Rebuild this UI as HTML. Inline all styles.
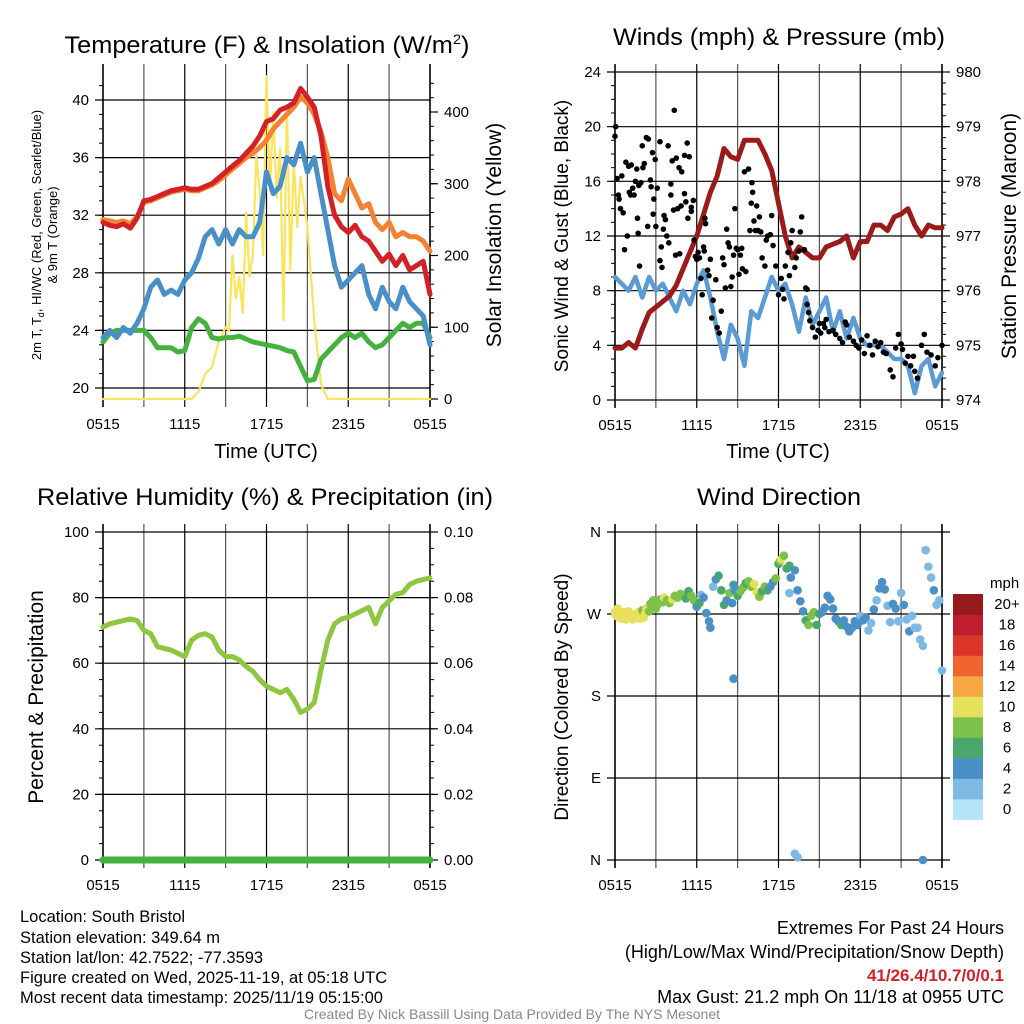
<!DOCTYPE html>
<html><head><meta charset="utf-8">
<style>
html,body{margin:0;padding:0;background:#fff;}
svg{display:block;font-family:"Liberation Sans Narrow","Liberation Sans",sans-serif;}
</style></head>
<body>
<svg id="fig" width="1024" height="1024" viewBox="0 0 1024 1024" xmlns="http://www.w3.org/2000/svg">
<rect width="1024" height="1024" fill="#fff"/>
<text x="267" y="53" font-size="24" text-anchor="middle" textLength="405" lengthAdjust="spacingAndGlyphs">Temperature (F) &amp; Insolation (W/m<tspan dy="-9" font-size="14">2</tspan><tspan dy="9">)</tspan></text>
<text x="779" y="45" font-size="24" text-anchor="middle" textLength="332" lengthAdjust="spacingAndGlyphs">Winds (mph) &amp; Pressure (mb)</text>
<text x="265" y="505" font-size="24" text-anchor="middle" textLength="456" lengthAdjust="spacingAndGlyphs">Relative Humidity (%) &amp; Precipitation (in)</text>
<text x="779" y="505" font-size="24" text-anchor="middle" textLength="164" lengthAdjust="spacingAndGlyphs">Wind Direction</text>

<text transform="translate(41,235) rotate(-90)" font-size="13" text-anchor="middle">2m T, T<tspan font-size="9" dy="3">d</tspan><tspan dy="-3">, HI/WC (Red, Green, Scarlet/Blue)</tspan></text>
<text transform="translate(57,235) rotate(-90)" font-size="13" text-anchor="middle">&amp; 9m T (Orange)</text>
<text transform="translate(501,235) rotate(-90)" font-size="21" text-anchor="middle">Solar Insolation (Yellow)</text>
<text transform="translate(568,236) rotate(-90)" font-size="19" text-anchor="middle">Sonic Wind &amp; Gust (Blue, Black)</text>
<text transform="translate(1016,236) rotate(-90)" font-size="21" text-anchor="middle">Station Pressure (Maroon)</text>
<text transform="translate(43,697) rotate(-90)" font-size="21" text-anchor="middle">Percent &amp; Precipitation</text>
<text transform="translate(568,697) rotate(-90)" font-size="19" text-anchor="middle">Direction (Colored By Speed)</text>
<text x="266" y="458" font-size="20" text-anchor="middle">Time (UTC)</text>
<text x="778" y="458" font-size="20" text-anchor="middle">Time (UTC)</text>

<g font-size="16.5">
<text x="20" y="922">Location: South Bristol</text>
<text x="20" y="943">Station elevation: 349.64 m</text>
<text x="20" y="963">Station lat/lon: 42.7522; -77.3593</text>
<text x="20" y="983">Figure created on Wed, 2025-11-19, at 05:18 UTC</text>
<text x="20" y="1003">Most recent data timestamp: 2025/11/19 05:15:00</text>
</g>
<g font-size="18" text-anchor="end">
<text x="1004" y="934">Extremes For Past 24 Hours</text>
<text x="1004" y="958">(High/Low/Max Wind/Precipitation/Snow Depth)</text>
<text x="1004" y="981" fill="#d22027" font-weight="bold" font-size="17">41/26.4/10.7/0/0.1</text>
<text x="1004" y="1003">Max Gust: 21.2 mph On 11/18 at 0955 UTC</text>
</g>
<text x="512" y="1019" font-size="14" fill="#888" text-anchor="middle">Created By Nick Bassill Using Data Provided By The NYS Mesonet</text>
</svg>
<script>
// ---- data (hours since 0515 UTC) ----
const hours = [0,0.5,1,1.5,2,2.5,3,3.5,4,4.5,5,5.5,6,6.5,7,7.5,8,8.5,9,9.5,10,10.5,11,11.5,12,12.5,13,13.5,14,14.5,15,15.5,16,16.5,17,17.5,18,18.5,19,19.5,20,20.5,21,21.5,22,22.5,23,23.5,24];
const tempRed = [31.5,31.3,31.2,31.4,31.1,31.8,33,33.1,33.3,33.5,33.7,33.8,33.9,33.8,33.8,34,34.2,34.6,35,35.4,35.8,36.3,36.8,37.5,38.5,38.7,39.3,39.5,39.8,40.8,40.2,39.5,37.5,34,32,31.2,30.8,31.3,30.5,30.2,29.5,28.8,29.3,28.5,29.2,28.2,28.5,28.8,26.5];
const temp9m = [31.7,31.6,31.5,31.6,31.4,31.9,32.9,33,33.2,33.4,33.6,33.7,33.8,33.7,33.7,33.9,34.1,34.4,34.8,35.2,35.6,36,36.3,36.7,37.2,38,38.5,39,39.5,40.2,39.8,39,37.8,36,33.5,33,34.5,33.5,32.5,32.8,31.5,31,31.5,30.5,30.8,30.5,30.5,30.2,29.5];
const tempBlue = [23.5,24,23.5,24.2,23.8,24.5,25.5,27,27.5,26.5,26.8,26.5,27.5,28,29,30.5,31,30,31,30,31,30.5,30.5,31.5,35,33.5,34,36,35.5,37,35,36,33.5,31,28.5,27,27.5,28,28.5,26.5,25.5,27,26,25.5,27,26,25.5,25,23];
const dewGreen = [23.2,23.8,24,24,24,24,24,23.5,22.8,22.8,22.8,22.5,22.6,24.2,24.8,24.5,23.5,23.4,23.5,23.5,23.6,23.4,23.2,23.1,23,22.9,22.8,22.6,22.5,21.5,20.5,20.6,22,22.5,23,23.5,23.8,23.5,23.8,23.2,22.8,23,23.5,24,24.5,24.2,24.5,24.5,23.5];
const solarT = [0,6.5,7,7.5,8,8.5,9,9.25,9.5,9.75,10,10.25,10.5,10.75,11,11.25,11.5,11.75,12,12.25,12.5,12.75,13,13.25,13.5,13.75,14,14.25,14.5,15,15.5,16,16.5,24];
const solarV = [0,0,10,35,45,80,100,95,200,140,170,120,260,170,200,340,290,200,450,290,400,280,350,110,410,180,330,240,310,240,110,20,0,0];
const windBlue = [9,8.5,8,9,7.5,9,8,8.5,7.5,6.5,8,7,8.5,9.5,7.5,5,3,5.5,4.5,2.5,6.5,6,7.5,9,8,8.5,7,5,7.5,5.5,6.5,7.5,5,6.5,4.5,6,4.5,4,4,4,3.5,3,3,2.5,0.5,2.5,3,1,2];
const pressure = [974.95,974.95,975.05,974.95,975.3,975.6,975.7,975.8,975.9,976.1,976.4,976.7,977,977.4,977.8,978.1,978.6,978.45,978.4,978.75,978.75,978.75,978.5,978.2,977.6,977,976.6,976.8,976.7,976.6,976.6,976.8,976.85,976.9,977,976.6,976.9,976.9,977.2,977.2,977.1,977.35,977.4,977.5,977.2,977,977.2,977.15,977.15];
const gustT = [0,0.05,0.15,0.25,0.3,0.4,0.5,0.6,0.7,0.8,0.9,1,1.05,1.15,1.2,1.3,1.4,1.5,1.6,1.65,1.7,1.75,1.8,1.9,2,2.05,2.15,2.3,2.4,2.45,2.6,2.65,2.75,2.8,2.85,2.95,3,3.1,3.3,3.3,3.4,3.45,3.55,3.6,3.7,3.8,3.9,3.95,4.1,4.1,4.2,4.3,4.35,4.45,4.5,4.6,4.7,4.75,4.85,4.9,5.1,5.1,5.2,5.3,5.35,5.45,5.6,5.6,5.75,5.8,5.9,6,6.1,6.2,6.3,6.4,6.5,6.55,6.6,6.65,6.8,6.9,7,7.1,7.2,7.4,7.5,7.65,7.8,7.9,8,8.1,8.2,8.3,8.4,8.5,8.6,8.7,8.8,8.9,9,9.1,9.2,9.3,9.35,9.5,9.6,9.8,9.9,10,10.05,10.1,10.2,10.3,10.4,10.5,10.6,10.7,10.8,11,11.1,11.2,11.4,11.5,11.6,11.8,12,12.2,12.3,12.4,12.5,12.7,12.8,12.9,13,13.2,13.3,13.5,13.6,13.7,13.9,14,14.1,14.1,14.2,14.3,14.5,14.7,14.9,15,15.1,15.3,15.4,15.5,15.7,16,16.2,16.5,16.7,16.9,17,17.2,17.5,17.7,17.9,18.1,18.3,18.5,18.7,18.9,19.1,19.3,19.5,19.7,19.9,20.2,20.4,20.6,20.8,21,21.1,21.3,21.5,21.7,21.9,22,22.2,22.5,22.7,22.9,23.2,23.5,23.7,24];
const gustV = [19.3,20,16.2,15,14.7,14,16.4,13.7,11,17.4,12,17.1,15.2,15,17.2,15.5,15,16,16.9,13.3,12.2,15.7,9.8,15.9,18.6,17,17.3,19.2,12.7,19.1,16.1,15.6,18.1,13.6,14.7,17.6,12.7,15.5,18.9,10.2,11.2,9.7,12.5,13.5,13.2,12,18.6,11.5,15.8,15,17.5,13.9,21.2,10.6,17.7,14,17,10.7,14.2,16.7,15.1,17.9,14.5,18.8,13.3,17.8,14.1,13.8,14.6,11.7,10.5,10.3,10.8,10.4,8.9,7.7,11.2,10.9,13.3,12.9,9.5,9.1,10.3,6,7.3,8.8,5.3,4.9,6.5,10.4,9.9,8.2,12.5,11.5,11.2,8.3,9,10.6,14,11.1,11,9.2,10.6,11.1,9.6,16.7,9.4,16.9,12.4,14.4,15.9,15.2,13.1,12.4,14.2,12.4,13.4,12.3,10.4,9.8,11.7,12,12.1,13.5,11.3,9.8,7.7,8.9,8.1,7.4,9.8,10.8,9.1,11.5,12.4,9.7,10.4,10.9,12.3,13.4,11,8.2,8.1,7,6.4,5.8,5.3,4.6,5.1,5.6,4.9,5.6,5.3,5.9,5,5.1,4.8,4.5,4.2,5.7,5.5,4.6,4.3,4,3.8,4.4,3.4,4.7,4,3.3,4.3,3.9,4.2,3.5,3.4,2.2,1.7,3.8,4.8,4.1,3.7,2.7,3.2,2.5,3.2,2.1,1.6,4,4.8,3.5,3.3,2.5,3.1,4];
const rh = [71,72,72.5,73,73.5,73,70,69,65,64.5,64,63,62,67,68.5,69,68,64,62,62,61,59,57.5,55,53,52,51,52,49,45,46,48,58,67,72,73.5,74,75,76,77,72,77,79,81,81.5,84,85,85.5,86];
const precip = [0,0,0,0,0,0,0,0,0,0,0,0,0,0,0,0,0,0,0,0,0,0,0,0,0,0,0,0,0,0,0,0,0,0,0,0,0,0,0,0,0,0,0,0,0,0,0,0,0];
const dirT = [0,0.1,0.2,0.3,0.4,0.5,0.6,0.7,0.8,0.9,1,1.1,1.2,1.3,1.5,1.6,1.7,1.8,1.9,2,2.1,2.2,2.3,2.5,2.6,2.8,3,3.1,3.3,3.5,3.6,3.8,4,4.2,4.4,4.6,4.8,5,5.2,5.4,5.6,5.8,6,6.2,6.3,6.5,6.7,6.9,7,7.2,7.4,7.6,7.8,8,8.2,8.4,8.6,8.7,8.8,9,9.2,9.4,9.6,9.8,10,10.2,10.4,10.6,10.8,11,11.2,11.4,11.6,11.8,12,12.1,12.2,12.4,12.6,12.8,12.9,13.2,13.4,13.6,13.8,14,14.2,14.4,14.6,14.8,15,15.2,15.4,15.6,15.8,16,16.2,16.4,16.6,16.8,17,17.2,17.4,17.6,17.8,18,18.2,18.4,18.6,18.8,19,19.2,19.4,19.6,19.8,20,20.2,20.4,20.6,20.8,21,21.2,21.4,21.6,21.8,22,22.2,22.4,22.6,22.8,23,23.2,23.4,23.6,23.8,24,8.7,8.75,12.8,13.2,13.4,22.6];
const dirV = [272,268,276,266,270,265,272,267,264,270,273,266,268,264,270,266,272,265,268,274,266,270,276,273,281,285,276,280,286,283,288,285,282,286,290,288,292,291,287,295,290,285,278,282,291,288,271,262,255,300,308,312,296,280,285,293,282,302,296,290,295,299,304,306,300,303,294,289,295,300,296,300,305,309,325,328,330,334,320,323,310,318,296,284,273,263,258,268,272,258,270,272,277,290,286,276,265,262,258,263,256,251,255,262,258,268,263,266,252,260,275,285,298,305,297,279,261,281,276,262,293,280,264,251,268,255,255,242,235,340,322,310,296,280,285,208,199,300,293,7,3,0,18,2,105];
const dirS = [10,10,9,10,9,10,9,10,9,10,9,9,10,9,9,10,9,10,9,8,9,10,9,8,8,8,7,8,7,8,9,8,8,9,7,8,7,8,6,5,8,7,4,6,2,3,3,4,4,2,4,5,5,6,4,7,4,5,3,6,7,8,6,7,8,9,10,8,6,7,6,4,4,7,6,8,9,8,6,5,4,3,4,3,4,6,7,8,8,6,5,4,4,4,3,3,4,4,5,3,4,4,3,4,4,2,3,4,2,2,3,2,3,4,3,2,2,3,3,2,1,3,2,3,2,1,1,2,1,1,1,2,3,2,2,2,3,3,1,1,2,4,2,1];

const SVGNS = "http://www.w3.org/2000/svg";
const svg = document.getElementById('fig');
function mk(tag, attrs, parent) {
  const e = document.createElementNS(SVGNS, tag);
  for (const k in attrs) e.setAttribute(k, attrs[k]);
  (parent || svg).appendChild(e);
  return e;
}
function scale(d0, d1, r0, r1) { return v => r0 + (v - d0) * (r1 - r0) / (d1 - d0); }

function buildFrame(name, P, xs, yl, leftTicks, leftMinor, leftFmt, yr, rightTicks, rightMinor, rightFmt) {
  const g = mk('g', {});
  
  
  for (let h = 0; h <= 24; h += 3) {
    const x = xs(h);
    const ln = mk('line', {x1: x, x2: x, y1: P.y0 - 8, y2: P.y1 + 8, stroke: (h % 6 === 0) ? '#000' : '#555', 'stroke-width': (h === 0 || h === 24) ? 1.6 : 1.2}, g);
    
    
  }
  const labs = ['0515', '1115', '1715', '2315', '0515'];
  for (let i = 0; i < 5; i++) {
    const t = mk('text', {x: xs(i * 6), y: P.y1 + 30, 'font-size': 15, 'text-anchor': 'middle'}, g);
    t.textContent = labs[i];
    
    
  }
  leftTicks.forEach(v => {
    const y = yl(v);
    const ln = mk('line', {x1: P.x0 - 8, x2: P.x1 + (yr ? 0 : 8), y1: y, y2: y, stroke: '#000', 'stroke-width': 1.2}, g);
    
    
    const t = mk('text', {x: P.x0 - 14, y: y + 5, 'font-size': 15, 'text-anchor': 'end'}, g);
    t.textContent = leftFmt(v);
    
    
  });
  leftMinor.forEach(v => {
    const y = yl(v);
    const ln = mk('line', {x1: P.x0 - 4, x2: P.x0, y1: y, y2: y, stroke: '#000', 'stroke-width': 1}, g);
    
    
  });
  if (yr) {
    rightTicks.forEach(v => {
      const y = yr(v);
      const ln = mk('line', {x1: P.x1, x2: P.x1 + 8, y1: y, y2: y, stroke: '#000', 'stroke-width': 1.2}, g);
      
      
      const t = mk('text', {x: P.x1 + 14, y: y + 5, 'font-size': 15, 'text-anchor': 'start'}, g);
      t.textContent = rightFmt(v);
      
      
    });
    rightMinor.forEach(v => {
      const y = yr(v);
      const ln = mk('line', {x1: P.x1, x2: P.x1 + 4, y1: y, y2: y, stroke: '#000', 'stroke-width': 1}, g);
      
      
    });
  }
}
function line(name, xsArr, ysArr, xs, ys, color, w, clipId) {
  let d = '';
  for (let i = 0; i < xsArr.length; i++) d += (i ? 'L' : 'M') + xs(xsArr[i]).toFixed(1) + ',' + ys(ysArr[i]).toFixed(1);
  const p = mk('path', {d: d, fill: 'none', stroke: color, 'stroke-width': w, 'stroke-linejoin': 'round', 'stroke-linecap': 'round', 'clip-path': 'url(#' + clipId + ')'});
  
  
}
function clip(id, P) {
  const defs = mk('defs', {});
  const c = mk('clipPath', {id: id}, defs);
  mk('rect', {x: P.x0 - 3, y: P.y0, width: P.x1 - P.x0 + 6, height: P.y1 - P.y0 + 4}, c);
}
function range(a, b, s) { const r = []; for (let v = a; v <= b + 1e-9; v += s) r.push(+v.toFixed(4)); return r; }

// ---- Panel 1 ----
const P1 = {x0: 103, x1: 430, y0: 72, y1: 399};
const x1s = scale(0, 24, P1.x0, P1.x1);
const y1l = scale(20, 40, 388, 100);
const y1r = scale(0, 400, 399, 112);
clip('c1', P1);
buildFrame('temp', P1, x1s, y1l, [20, 24, 28, 32, 36, 40], range(20, 41, 1), v => v, y1r, [0, 100, 200, 300, 400], range(0, 440, 20), v => v);
line('solar-insolation-line', solarT, solarV, x1s, y1r, '#f9e45b', 2.2, 'c1');
line('dewpoint-green-line', hours, dewGreen, x1s, y1l, '#45b23f', 5, 'c1');
line('windchill-blue-line', hours, tempBlue, x1s, y1l, '#4a90c8', 5, 'c1');
line('temp-9m-orange-line', hours, temp9m, x1s, y1l, '#f58231', 5, 'c1');
line('temp-2m-red-line', hours, tempRed, x1s, y1l, '#d42027', 5, 'c1');

// ---- Panel 2 ----
const P2 = {x0: 615, x1: 942, y0: 72, y1: 400};
const x2s = scale(0, 24, P2.x0, P2.x1);
const y2l = scale(0, 24, 400, 72);
const y2r = scale(974, 980, 400, 72);
clip('c2', P2);
buildFrame('wind', P2, x2s, y2l, [0, 4, 8, 12, 16, 20, 24], range(0, 24, 1), v => v, y2r, [974, 975, 976, 977, 978, 979, 980], range(974, 980, 0.2), v => v);
line('sonic-wind-blue-line', hours, windBlue, x2s, y2l, '#5b9bd5', 4.5, 'c2');
line('pressure-maroon-line', hours, pressure, x2s, y2r, '#9b1b1b', 5, 'c2');
for (let i = 0; i < gustT.length; i++) {
  const c = mk('circle', {cx: x2s(gustT[i]), cy: y2l(gustV[i]), r: 2.8, fill: '#000'});
  
  
}

// ---- Panel 3 ----
const P3 = {x0: 103, x1: 430, y0: 532, y1: 860};
const x3s = scale(0, 24, P3.x0, P3.x1);
const y3l = scale(0, 100, 860, 532);
const y3r = scale(0, 0.1, 860, 532);
clip('c3', {x0: 98, x1: 435, y0: 532, y1: 866});
buildFrame('rh', P3, x3s, y3l, [0, 20, 40, 60, 80, 100], range(0, 100, 5), v => v, y3r, [0, 0.02, 0.04, 0.06, 0.08, 0.1], range(0, 0.1, 0.005), v => v.toFixed(2));
line('relative-humidity-line', hours, rh, x3s, y3l, '#8dc63f', 5, 'c3');
line('precipitation-line', hours, precip, x3s, y3r, '#45b23f', 7, 'c3');

// ---- Panel 4 ----
const P4 = {x0: 615, x1: 942, y0: 532, y1: 860};
const x4s = scale(0, 24, P4.x0, P4.x1);
const y4l = scale(0, 360, 860, 532);
buildFrame('direction', P4, x4s, y4l, [0, 90, 180, 270, 360], [], v => ({0: 'N', 90: 'E', 180: 'S', 270: 'W', 360: 'N'})[v], null);
const speedColors = ['#b3e3f7', '#7db9e2', '#4a8fc5', '#49a66c', '#7dc14a', '#e6e05a', '#f6a742', '#ef6530', '#db3428', '#be1e2d', '#961b1e'];
const speedLabels = ['0', '2', '4', '6', '8', '10', '12', '14', '16', '18', '20+'];
for (let i = 0; i < dirT.length; i++) {
  const k = Math.min(10, Math.floor((dirS[i] + 1) / 2));
  const c = mk('circle', {cx: x4s(dirT[i]), cy: y4l(dirV[i]), r: 4.3, fill: speedColors[k]});
  
  
}
const cb = mk('g', {});


const mphT = mk('text', {x: 990, y: 588, 'font-size': 15}, cb);
mphT.textContent = 'mph';


for (let i = 0; i < 11; i++) {
  const y = 594 + (10 - i) * 20.5;
  const r = mk('rect', {x: 953, y: y, width: 30, height: 20.8, fill: speedColors[i]}, cb);
  
  
  const t = mk('text', {x: 1007, y: y + 15, 'font-size': 15, 'text-anchor': 'middle'}, cb);
  t.textContent = speedLabels[i];
  
  
}
</script>
</body></html>
